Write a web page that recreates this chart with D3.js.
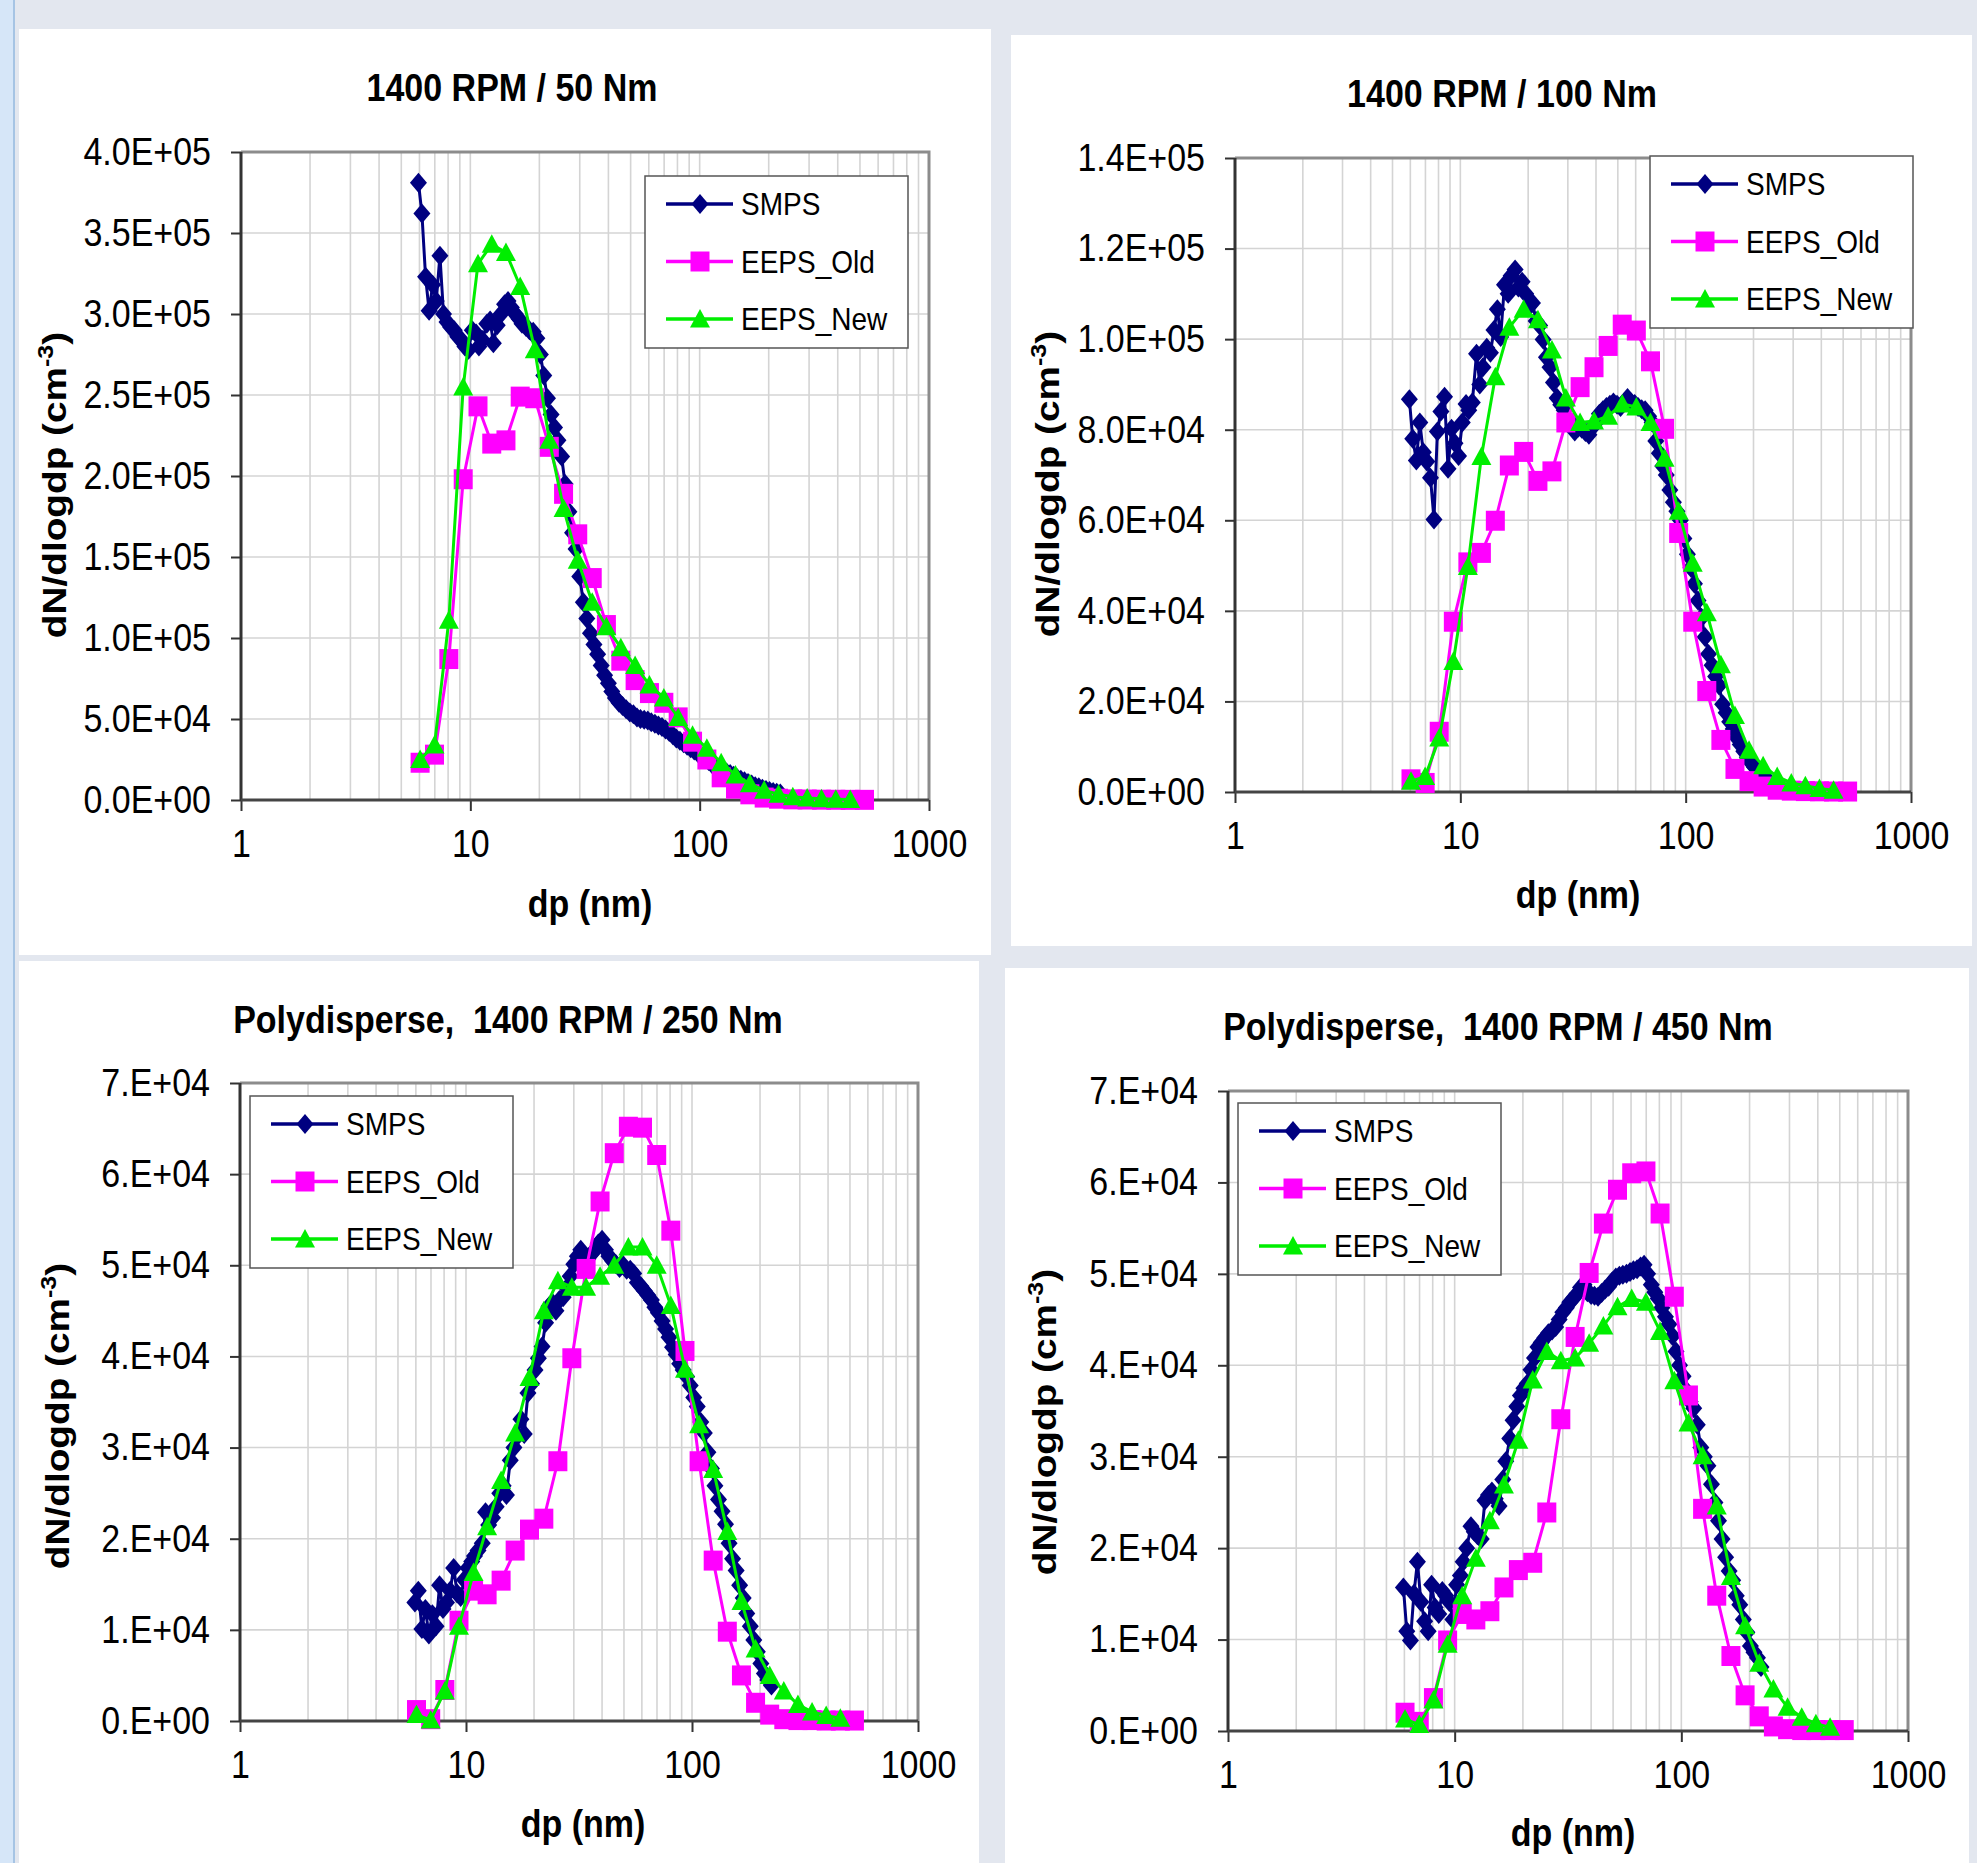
<!DOCTYPE html>
<html>
<head>
<meta charset="utf-8">
<script src="https://cdn.jsdelivr.net/npm/d3@7"></script>
<style>
  body { margin: 0; background: #e3e7ef; overflow: hidden; }
  svg { display: block; }
</style>
</head>
<body>
<div id="chart"></div>
<script>
const W = 1977, H = 1863;
// the source picture is a bit taller than wide, so text is stretched vertically
const STRETCH = 1.14;
const FONT = "'Liberation Sans', Arial, Helvetica, sans-serif";

// ---- data ----
const seriesNames = ['SMPS', 'EEPS_Old', 'EEPS_New'];

// SMPS channel diameters (nm)
const smpsDp = [
  5.94, 6.15, 6.38, 6.61, 6.85, 7.10, 7.37, 7.64, 7.91, 8.20,
  8.51, 8.82, 9.14, 9.47, 9.82, 10.2, 10.6, 10.9, 11.3, 11.8,
  12.2, 12.6, 13.1, 13.6, 14.1, 14.6, 15.1, 15.7, 16.3, 16.8,
  17.5, 18.1, 18.8, 19.5, 20.2, 20.9, 21.7, 22.5, 23.3, 24.1,
  25.0, 25.9, 26.9, 27.9, 28.9, 30.0, 31.1, 32.2, 33.4, 34.6,
  35.9, 37.2, 38.5, 40.0, 41.4, 42.9, 44.5, 46.1, 47.8, 49.6,
  51.4, 53.3, 55.2, 57.3, 59.4, 61.5, 63.8, 66.1, 68.5, 71.0,
  73.7, 76.4, 79.1, 82.0, 85.1, 88.2, 91.4, 94.7, 98.2, 101.8,
  105.5, 109.4, 113.4, 117.6, 121.9, 126.3, 131.0, 135.8, 140.7, 145.9,
  151.2, 156.8, 162.5, 168.5, 174.7, 181.1, 187.7, 194.6, 201.7, 209.1,
  216.7, 224.7];

// EEPS channel diameters (nm)
const eepsDp = [6.04, 6.98, 8.06, 9.31, 10.8, 12.4, 14.3, 16.5, 19.1, 22.1, 25.5, 29.4, 34.0, 39.2,
  45.3, 52.3, 60.4, 69.8, 80.6, 93.1, 107.5, 124.1, 143.3, 165.5, 191.1, 220.7, 254.8, 294.3, 339.8,
  392.4, 453.2, 523.3];

// 1400 RPM / 50 Nm
const smps50 = [
  381000, 362000, 323000, 302000, 318000, 308000, 336000, 300000, 295000, 292000,
  290000, 286000, 284000, 280000, 278000, 290000, 288000, 280000, 284000, 294000,
  296000, 282000, 293000, 300000, 306000, 308000, 304000, 300000, 297000, 294000,
  292000, 290000, 289000, 285000, 275000, 262000, 248000, 238000, 230000, 222000,
  212000, 195000, 178000, 165000, 155000, 138000, 122000, 112000, 103000, 96000,
  90000, 83000, 77000, 72000, 67000, 63000, 60000, 58000, 56000, 54000,
  53000, 51000, 50000, 49500, 49000, 48000, 47000, 46000, 45000, 43500,
  42000, 40000, 38000, 36500, 35000, 33500, 32000, 30500, 29000, 27500,
  26000, 24000, 22000, 21000, 19500, 18000, 17000, 16000, 15000, 13500,
  12500, 11500, 10500, 9500, 8500, 7800, 7000, 6200, 5500, 5000,
  4500, 4000];
const old50 = [23000, 28000, 87000, 198000, 243000, 220000, 222000, 249000, 248000, 218000, 189000,
  164000, 137000, 108000, 86000, 74000, 66000, 60000, 51000, 36000, 25000, 14000, 7000, 3500, 1500,
  800, 400, 300, 200, 150, 100, 100];
const new50 = [25000, 34000, 111000, 255000, 331000, 343000, 338000, 317000, 278000, 222000, 180000,
  148000, 122000, 107000, 94000, 83000, 71000, 63000, 51000, 40000, 32000, 23000, 15500, 10000, 6000,
  3500, 2000, 1200, 800, 500, 300];

// 1400 RPM / 100 Nm
const smps100 = [
  86700, 78000, 73200, 81600, 75000, 73000, 69400, 60200, 79600, 84000,
  87300, 71400, 80200, 77000, 74200, 81600, 85700, 84300, 86000, 96800,
  90000, 93800, 98100, 97000, 102000, 106600, 100500, 112000, 110000, 114000,
  115400, 111400, 112700, 110000, 107300, 108000, 104000, 103000, 99900, 96000,
  93800, 90400, 87000, 85500, 84300, 82000, 81600, 79600, 80500, 80200,
  79500, 78900, 80500, 81600, 83500, 84300, 85000, 85500, 86000, 85500,
  85000, 86000, 87000, 86000, 85700, 85000, 84500, 84300, 83000, 81600,
  77500, 74800, 72000, 70000, 66700, 64000, 62000, 60000, 56000, 52500,
  49500, 46000, 42300, 38500, 34200, 30500, 28000, 25500, 23500, 19400,
  17500, 15500, 13900, 12000, 10500, 9000, 7700, 6500, 5500, 4800,
  4200, 3400];
const old100 = [2800, 2000, 13300, 37600, 50700, 52800, 59900, 72100, 75100, 68700, 70800, 81600,
  89400, 93800, 98500, 103200, 101900, 95100, 80200, 57200, 37600, 22300, 11500, 5100, 2400, 1200,
  500, 300, 200, 150, 100, 100];
const new100 = [2400, 3400, 11900, 28800, 49800, 74100, 91700, 102600, 106600, 104300, 97600, 87000,
  81600, 81900, 83000, 85700, 85000, 81600, 73700, 62000, 50500, 39600, 28100, 16900, 9200, 5800,
  3400, 2000, 1400, 800, 400];

// Polydisperse, 1400 RPM / 250 Nm
const smps250 = [
  13000, 14300, 10100, 12300, 9500, 11700, 10400, 14900, 12300, 13000,
  14300, 16800, 14000, 13600, 15500, 16800, 17500, 18100, 18700, 19500,
  22900, 21500, 22300, 23500, 25000, 25800, 24800, 28600, 30000, 31200,
  33100, 31500, 36000, 37000, 38500, 39800, 41100, 43700, 45500, 45900,
  45000, 46200, 46500, 47500, 48800, 50100, 51000, 51700, 50400, 50700,
  51200, 51700, 52400, 52800, 51700, 51000, 50500, 50100, 49700, 50000,
  49500, 49500, 49100, 48100, 47700, 47200, 46700, 46200, 45400, 44800,
  43900, 43000, 42100, 41000, 40200, 39200, 38500, 37800, 36800, 35500,
  34500, 32800, 31600, 29500, 27700, 25800, 24300, 23000, 21600, 19500,
  17800, 16500, 14900, 13500, 11800, 10400, 8900, 7600, 6300, 5200,
  4500, 3900];
const old250 = [1200, 200, 3400, 11000, 14300, 13900, 15400, 18700, 21000, 22200, 28500, 39800,
  49600, 57000, 62300, 65200, 65100, 62100, 53800, 40600, 28500, 17600, 9800, 5000, 2000, 700,
  200, 100, 100, 50, 50, 50];
const new250 = [700, 100, 3300, 10400, 16300, 21300, 26400, 31600, 37700, 45000, 48300, 47600,
  47600, 48800, 50000, 52000, 52000, 50000, 45600, 38600, 32500, 27600, 20800, 13100, 7900, 5000,
  3300, 1800, 1000, 600, 300];

// Polydisperse, 1400 RPM / 450 Nm
const smps450 = [
  15700, 10900, 9900, 15000, 18500, 14100, 12000, 10900, 16000, 13500,
  12800, 15300, 14800, 14100, 12200, 16000, 17000, 18500, 20000, 22400,
  21800, 21400, 21000, 25200, 25800, 26200, 25400, 24600, 27500, 29500,
  32000, 34000, 35500, 36700, 37500, 38000, 39500, 40800, 42000, 42500,
  43000, 43500, 43800, 44200, 45000, 45800, 46300, 46900, 47300, 47800,
  48500, 48800, 48000, 47700, 47600, 47500, 47900, 48300, 48600, 49200,
  49600, 49800, 49900, 50000, 50200, 50400, 50500, 50800, 51000, 50000,
  48800, 48000, 47300, 46300, 45300, 44500, 43200, 41500, 40000, 38800,
  37200, 36000, 35300, 33500, 31000, 30000, 29000, 27000, 25000, 23000,
  21000, 19000, 17500, 16500, 14800, 13800, 12200, 10800, 9300, 8600,
  8000, 7000];
const old450 = [2000, 1000, 3600, 9900, 12800, 12200, 13100, 15700, 17600, 18400, 23900, 34100,
  43100, 50100, 55500, 59200, 61000, 61200, 56600, 47500, 36700, 24300, 14800, 8200, 3900, 1600,
  500, 200, 100, 100, 100, 100];
const new450 = [1300, 700, 3400, 9500, 14800, 18900, 23000, 26900, 31800, 38400, 41500, 40500,
  40800, 42400, 44300, 46400, 47300, 46900, 43700, 38300, 33700, 30100, 24600, 16900, 11500, 7400,
  4600, 2600, 1500, 800, 400];

const titles = ['1400 RPM / 50 Nm', '1400 RPM / 100 Nm',
  'Polydisperse,  1400 RPM / 250 Nm', 'Polydisperse,  1400 RPM / 450 Nm'];
const xTicks = [1, 10, 100, 1000];
const yTicks50 = [0, 50000, 100000, 150000, 200000, 250000, 300000, 350000, 400000];
const yTicks100 = [0, 20000, 40000, 60000, 80000, 100000, 120000, 140000];
const yTicksPoly = [0, 10000, 20000, 30000, 40000, 50000, 60000, 70000];

// ---- layout ----
const panels = [
  { box: [19, 29, 972, 926], plot: [241, 929, 152, 800], title: titles[0], titleXY: [512, 101],
    xLabelXY: [590, 917], yLabelXY: [66, 485], legend: [645, 176], yTicks: yTicks50, digits: 1,
    data: [smps50, old50, new50] },
  { box: [1011, 35, 961, 911], plot: [1235, 1911, 158, 792], title: titles[1], titleXY: [1502, 107],
    xLabelXY: [1578, 908], yLabelXY: [1059, 484], legend: [1650, 156], yTicks: yTicks100, digits: 1,
    data: [smps100, old100, new100] },
  { box: [19, 961, 960, 902], plot: [240, 918, 1083, 1721], title: titles[2], titleXY: [508, 1033],
    xLabelXY: [583, 1837], yLabelXY: [69, 1416], legend: [250, 1096], yTicks: yTicksPoly, digits: 0,
    data: [smps250, old250, new250] },
  { box: [1005, 968, 964, 895], plot: [1228, 1908, 1091, 1731], title: titles[3], titleXY: [1498, 1040],
    xLabelXY: [1573, 1846], yLabelXY: [1056, 1422], legend: [1238, 1103], yTicks: yTicksPoly, digits: 0,
    data: [smps450, old450, new450] }
];

const styles = [
  { color: '#000080', marker: 'diamond', dp: smpsDp },
  { color: '#ff00ff', marker: 'square', dp: eepsDp },
  { color: '#00ee00', marker: 'triangle', dp: eepsDp }
];

const markerPath = {
  diamond: 'M0,-10L8.5,0L0,10L-8.5,0Z',
  square: 'M-9.5,-10H9.5V10H-9.5Z',
  triangle: 'M0,-10L10,8.5L-10,8.5Z'
};

// Excel style scientific labels: 4.0E+05, 7.E+04
function sci(v, digits) {
  const [m, e] = v.toExponential(digits).split('e');
  const ex = parseInt(e, 10);
  return m + (digits === 0 ? '.' : '') + 'E' + (ex < 0 ? '-' : '+') + String(Math.abs(ex)).padStart(2, '0');
}

const svg = d3.select('#chart').append('svg').attr('width', W).attr('height', H);

svg.append('rect').attr('width', W).attr('height', H).attr('fill', '#e3e7ef');
svg.append('rect').attr('x', 0).attr('y', 0).attr('width', 13).attr('height', H).attr('fill', '#d6e6f8');
svg.append('line').attr('x1', 14).attr('x2', 14).attr('y1', 0).attr('y2', H)
  .attr('stroke', '#a6c4e4').attr('stroke-width', 2);

function drawPanel(p) {
  const g = svg.append('g');
  const [bx, by, bw, bh] = p.box;
  const [px0, px1, py0, py1] = p.plot;

  g.append('rect').attr('x', bx).attr('y', by).attr('width', bw).attr('height', bh).attr('fill', '#fff');

  const x = d3.scaleLog().domain([1, 1000]).range([px0, px1]);
  const y = d3.scaleLinear().domain([0, p.yTicks[p.yTicks.length - 1]]).range([py1, py0]);

  // gridlines
  g.append('g').selectAll('line').data(x.ticks()).join('line')
    .attr('x1', d => x(d)).attr('x2', d => x(d)).attr('y1', py0).attr('y2', py1)
    .attr('stroke', '#d4d4d4').attr('stroke-width', 1.6);
  g.append('g').selectAll('line').data(p.yTicks).join('line')
    .attr('x1', px0).attr('x2', px1).attr('y1', d => y(d)).attr('y2', d => y(d))
    .attr('stroke', '#d4d4d4').attr('stroke-width', 1.6);

  // plot area border (top, right)
  g.append('path').attr('d', `M${px0},${py0}H${px1}V${py1}`)
    .attr('fill', 'none').attr('stroke', '#8c8c8c').attr('stroke-width', 3);

  // y axis
  const ya = g.append('g').attr('transform', `translate(${px0},0)`)
    .call(d3.axisLeft(y).tickValues(p.yTicks).tickSize(10).tickPadding(20)
      .tickFormat(d => sci(d, p.digits)));
  ya.select('.domain').remove();
  ya.selectAll('line').attr('stroke', '#333').attr('stroke-width', 2);
  ya.selectAll('text').attr('font-size', 34).attr('font-family', FONT).attr('fill', '#000')
    .attr('transform', `scale(1,${STRETCH})`);

  // x axis
  const xa = g.append('g').attr('transform', `translate(0,${py1})`)
    .call(d3.axisBottom(x).tickValues(xTicks).tickSize(11).tickPadding(15).tickFormat(d3.format('d')));
  xa.select('.domain').remove();
  xa.selectAll('line').attr('stroke', '#333').attr('stroke-width', 2);
  xa.selectAll('text').attr('font-size', 34).attr('font-family', FONT).attr('fill', '#000')
    .attr('transform', `scale(1,${STRETCH})`);

  g.append('line').attr('x1', px0).attr('x2', px0).attr('y1', py0).attr('y2', py1)
    .attr('stroke', '#333').attr('stroke-width', 3);
  g.append('line').attr('x1', px0).attr('x2', px1).attr('y1', py1).attr('y2', py1)
    .attr('stroke', '#444').attr('stroke-width', 3);

  // series: line then markers, SMPS first, EEPS_New on top
  const line = d3.line().x(d => x(d[0])).y(d => y(d[1]));
  styles.forEach((s, k) => {
    const pts = p.data[k].map((v, i) => [s.dp[i], v]);
    g.append('path').datum(pts).attr('d', line)
      .attr('fill', 'none').attr('stroke', s.color).attr('stroke-width', 3).attr('stroke-linejoin', 'round');
    g.append('g').selectAll('path').data(pts).join('path')
      .attr('transform', d => `translate(${x(d[0])},${y(d[1])})`)
      .attr('d', markerPath[s.marker]).attr('fill', s.color);
  });

  // legend
  const [lx, ly] = p.legend;
  const lg = g.append('g').attr('transform', `translate(${lx},${ly})`);
  lg.append('rect').attr('width', 263).attr('height', 172)
    .attr('fill', '#fff').attr('stroke', '#555').attr('stroke-width', 1.5);
  seriesNames.forEach((name, k) => {
    const ey = 28 + k * 57.5;
    lg.append('line').attr('x1', 21).attr('x2', 88).attr('y1', ey).attr('y2', ey)
      .attr('stroke', styles[k].color).attr('stroke-width', 3.5);
    lg.append('path').attr('transform', `translate(55,${ey})`)
      .attr('d', markerPath[styles[k].marker]).attr('fill', styles[k].color);
    lg.append('text').attr('transform', `translate(96,${ey}) scale(1,${STRETCH})`)
      .attr('dy', '0.36em').attr('font-size', 28).attr('font-family', FONT).text(name);
  });

  // title
  g.append('text').attr('transform', `translate(${p.titleXY[0]},${p.titleXY[1]}) scale(1,${STRETCH})`)
    .attr('text-anchor', 'middle').attr('font-size', 34).attr('font-weight', 'bold')
    .attr('font-family', FONT).style('white-space', 'pre').text(p.title);

  // x axis title
  g.append('text').attr('transform', `translate(${p.xLabelXY[0]},${p.xLabelXY[1]}) scale(1,${STRETCH})`)
    .attr('text-anchor', 'middle').attr('font-size', 34).attr('font-weight', 'bold')
    .attr('font-family', FONT).text('dp (nm)');

  // y axis title
  const yt = g.append('text')
    .attr('transform', `translate(${p.yLabelXY[0]},${p.yLabelXY[1]}) scale(1,${STRETCH}) rotate(-90)`)
    .attr('text-anchor', 'middle').attr('font-size', 34).attr('font-weight', 'bold')
    .attr('font-family', FONT);
  yt.append('tspan').text('dN/dlogdp (cm');
  yt.append('tspan').attr('dy', -13).attr('font-size', 22).text('-3');
  yt.append('tspan').attr('dy', 13).text(')');
}

panels.forEach(drawPanel);
</script>
</body>
</html>
